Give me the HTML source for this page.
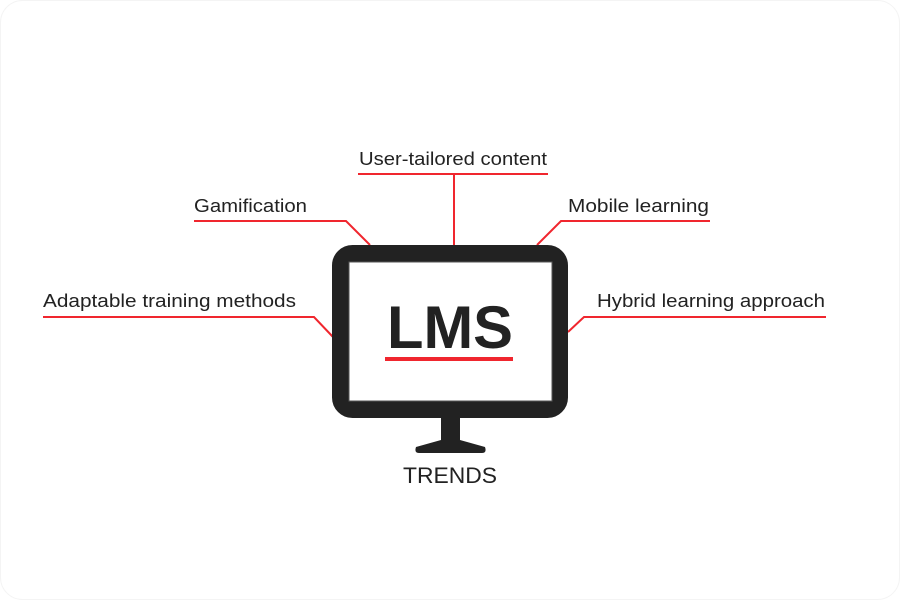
<!DOCTYPE html>
<html><head><style>
body{margin:0;background:#fff}
svg{display:block}
text{font-family:"Liberation Sans",sans-serif;fill:#222}
</style></head><body>
<svg width="900" height="600" viewBox="0 0 900 600">
<rect x="0.5" y="0.5" width="899" height="599" rx="22" fill="#fff" stroke="#f4f4f4"/>
<g stroke="#f0262e" stroke-width="2" fill="none">
<polyline points="358,174 548,174"/>
<polyline points="454,174 454,245"/>
<polyline points="194,221 346,221 370,245"/>
<polyline points="710,221 561,221 537,245"/>
<polyline points="43,317 314,317 333,337"/>
<polyline points="826,317 584,317 568,332"/>
</g>
<rect x="340.5" y="253.5" width="219" height="156" rx="12" fill="#fff" stroke="#222" stroke-width="17"/>
<rect x="349" y="262" width="203" height="139" fill="#fff" stroke="#555" stroke-width="1"/>
<rect x="441" y="417" width="19" height="26" fill="#222"/>
<path d="M416,447 L441,440 L460,440 L485,447 Q487,453 482,453 L419,453 Q414,453 416,447Z" fill="#222"/>
<text x="387" y="348" font-size="60" font-weight="bold" textLength="126" lengthAdjust="spacingAndGlyphs">LMS</text>
<rect x="385" y="357" width="128" height="4" fill="#f0262e"/>
<text x="403" y="483" font-size="22" textLength="94" lengthAdjust="spacingAndGlyphs">TRENDS</text>
<g font-size="18.5">
<text x="359" y="165" textLength="188" lengthAdjust="spacingAndGlyphs">User-tailored content</text>
<text x="194" y="212" textLength="113" lengthAdjust="spacingAndGlyphs">Gamification</text>
<text x="568" y="212" textLength="141" lengthAdjust="spacingAndGlyphs">Mobile learning</text>
<text x="43" y="307" textLength="253" lengthAdjust="spacingAndGlyphs">Adaptable training methods</text>
<text x="597" y="307" textLength="228" lengthAdjust="spacingAndGlyphs">Hybrid learning approach</text>
</g>
</svg>
</body></html>
